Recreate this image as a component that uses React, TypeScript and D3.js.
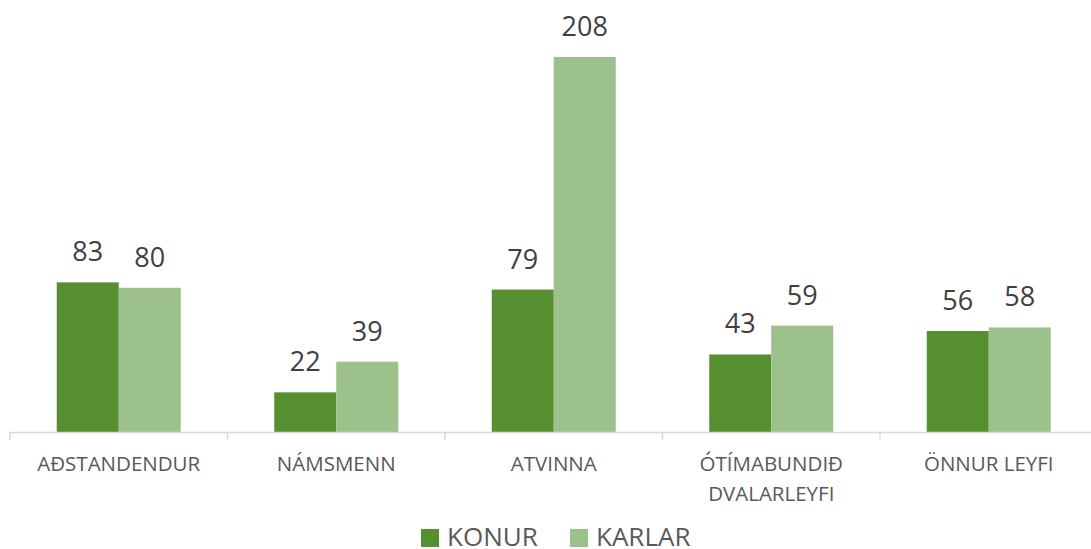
import React from "react";
import * as d3 from "d3";

const categories = ["AÐSTANDENDUR", "NÁMSMENN", "ATVINNA", "ÓTÍMABUNDIÐ\nDVALARLEYFI", "ÖNNUR LEYFI"];
const seriesNames = ["KONUR", "KARLAR"];
const konur = [83, 22, 79, 43, 56];
const karlar = [80, 39, 208, 59, 58];
const colors = ["#558F2F", "#9DC18A"];

const W = 1091;
const H = 549;
const FONT = "'Open Sans', 'Liberation Sans', sans-serif";

export default function App() {
  const x0 = d3.scaleBand<number>().domain(d3.range(categories.length)).range([10, 1097.5]).paddingInner(0).paddingOuter(0);
  const x1 = d3.scaleBand<number>().domain([0, 1]).range([0, x0.bandwidth()]).paddingOuter(0.754).paddingInner(0);
  const y = d3.scaleLinear().domain([0, 208]).range([432, 57]);
  const series = [konur, karlar];
  const ticks = d3.range(categories.length + 1).map((i) => 10 + i * x0.bandwidth());

  return (
    <svg width={W} height={H} style={{ position: "absolute", left: 0, top: 0, background: "#fff" }}>
      {series.map((vals, s) =>
        vals.map((v, i) => (
          <g key={`${s}-${i}`}>
            <rect x={x0(i)! + x1(s)!} y={y(v)} width={x1.bandwidth()} height={y(0) - y(v)} fill={colors[s]} />
            <text
              x={x0(i)! + x1(s)! + x1.bandwidth() / 2}
              y={y(v) - 21}
              textAnchor="middle"
              fontFamily={FONT}
              fontSize={27}
              fill="#404040"
            >
              {v}
            </text>
          </g>
        ))
      )}
      <line x1={10} x2={1091} y1={432.5} y2={432.5} stroke="#D9D9D9" strokeWidth={1.5} />
      {ticks.map((t, i) => (
        <line key={i} x1={t} x2={t} y1={432} y2={440} stroke="#D9D9D9" strokeWidth={1.5} />
      ))}
      {categories.map((c, i) => (
        <text key={c} x={x0(i)! + x0.bandwidth() / 2} y={470.5} textAnchor="middle" fontFamily={FONT} fontSize={20.5} fill="#595959">
          {c.split("\n").map((line, j) => (
            <tspan key={j} x={x0(i)! + x0.bandwidth() / 2} dy={j === 0 ? 0 : 30}>
              {line}
            </tspan>
          ))}
        </text>
      ))}
      {seriesNames.map((n, s) => {
        const lx = [421, 570][s];
        return (
          <g key={n}>
            <rect x={lx} y={529} width={18} height={18} fill={colors[s]} />
            <text x={lx + 26} y={545.5} fontFamily={FONT} fontSize={26} fill="#595959">
              {n}
            </text>
          </g>
        );
      })}
    </svg>
  );
}
